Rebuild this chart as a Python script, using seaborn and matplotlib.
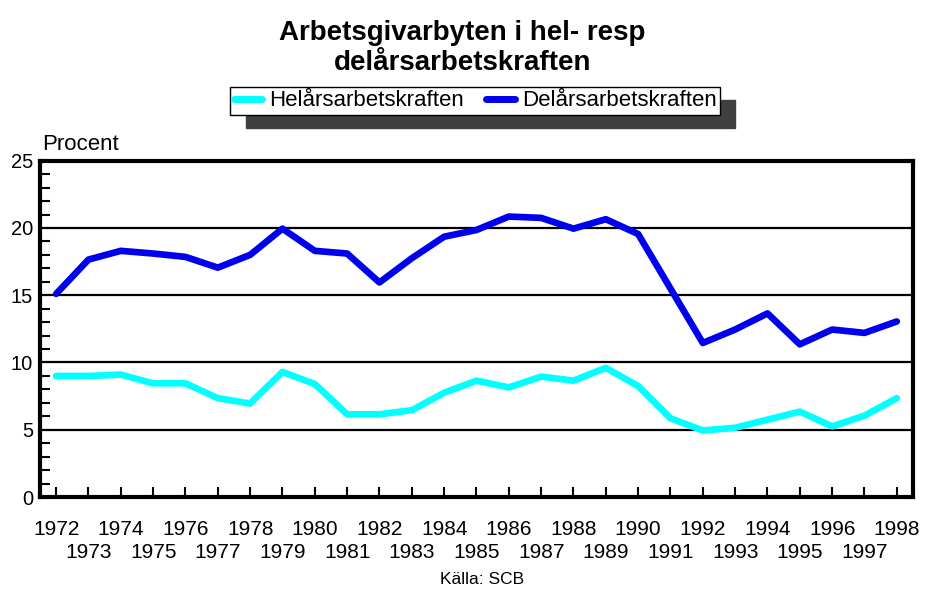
import numpy as np
import pandas as pd
import seaborn as sns
import matplotlib
matplotlib.use("Agg")
import matplotlib.pyplot as plt
from matplotlib.ticker import MultipleLocator

years = list(range(1972, 1999))
helars = [9.0, 9.0, 9.1, 8.45, 8.45, 7.35, 6.95, 9.3, 8.4, 6.15,
          6.15, 6.45, 7.75, 8.65, 8.15, 8.95, 8.65, 9.6, 8.25, 5.85,
          4.95, 5.15, 5.75, 6.35, 5.25, 6.05, 7.35]
delars = [15.1, 17.65, 18.3, 18.1, 17.85, 17.05, 18.0, 19.95, 18.3, 18.1,
          15.95, 17.75, 19.35, 19.85, 20.85, 20.75, 19.95, 20.65, 19.55, 15.5,
          11.45, 12.45, 13.65, 11.35, 12.45, 12.2, 13.05]
series_names = ["Helårsarbetskraften", "Delårsarbetskraften"]
even_years = [y for y in years if y % 2 == 0]
odd_years = [y for y in years if y % 2 == 1]

df = pd.DataFrame({"ar": years * 2,
                   "varde": helars + delars,
                   "serie": [series_names[0]] * len(years) + [series_names[1]] * len(years)})

sns.set_style("ticks")
plt.rcParams['font.family'] = ['Liberation Sans', 'DejaVu Sans']
plt.rcParams['text.color'] = 'black'
plt.rcParams['xtick.color'] = 'black'
plt.rcParams['ytick.color'] = 'black'
plt.rcParams['xtick.labelcolor'] = 'black'
plt.rcParams['ytick.labelcolor'] = 'black'

fig = plt.figure(figsize=(9.25, 5.9), dpi=100)
ax = fig.add_axes([0.0432, 0.1576, 0.9438, 0.57])

sns.lineplot(data=df, x="ar", y="varde", hue="serie",
             palette={series_names[0]: "#00FFFF", series_names[1]: "#0000EE"},
             linewidth=4.8, ax=ax, legend=False)
for ln in ax.get_lines():
    ln.set_solid_capstyle("round")
    ln.set_solid_joinstyle("round")

ax.set_xlim(1971.5, 1998.5)
ax.set_ylim(0, 25)
ax.set_xlabel("")
ax.set_ylabel("")

for y in [5, 10, 15, 20]:
    ax.axhline(y, color="black", linewidth=1.6, zorder=0)

# even years on the first row, odd years on the second row
ax.set_xticks(even_years)
ax.set_xticklabels([str(y) for y in even_years])
ax.set_xticks(odd_years, minor=True)
ax.set_xticklabels([str(y) for y in odd_years], minor=True)
ax.tick_params(axis="x", which="major", direction="in", length=7.5, width=1.5,
               pad=16.5, labelsize=15)
ax.tick_params(axis="x", which="minor", direction="in", length=7.5, width=1.5,
               pad=33, labelsize=15)

ax.set_yticks([0, 5, 10, 15, 20, 25])
ax.yaxis.set_minor_locator(MultipleLocator(1))
ax.tick_params(axis="y", which="major", direction="in", length=0, pad=5,
               labelsize=14.5)
ax.tick_params(axis="y", which="minor", direction="in", length=7, width=1.5)
for sp in ax.spines.values():
    sp.set_visible(True)
    sp.set_linewidth(3)
    sp.set_color("black")

fig.text(0.045, 0.738, "Procent", fontsize=16, ha="left", va="bottom")
fig.text(0.5, 0.966, "Arbetsgivarbyten i hel- resp\ndelårsarbetskraften",
         fontsize=20, fontweight="bold", ha="center", va="top",
         linespacing=1.2)
fig.text(0.521, 0.017, "Källa: SCB", fontsize=12.5, ha="center", va="center")

handles = [plt.Line2D([], [], color="#00FFFF", linewidth=5, solid_capstyle="round"),
           plt.Line2D([], [], color="#0000EE", linewidth=5, solid_capstyle="round")]
leg = fig.legend(handles, series_names, loc="center", ncol=2,
                 bbox_to_anchor=(0.5135, 0.829), fontsize=16,
                 frameon=True, fancybox=False, edgecolor="black",
                 handlelength=1.3, handletextpad=0.3, columnspacing=1.0,
                 borderpad=0.15, borderaxespad=0,
                 shadow={"ox": 11, "oy": -9.5, "color": "#404040", "alpha": 1})
leg.get_frame().set_linewidth(1.0)

fig.savefig("out.png", dpi=100)
